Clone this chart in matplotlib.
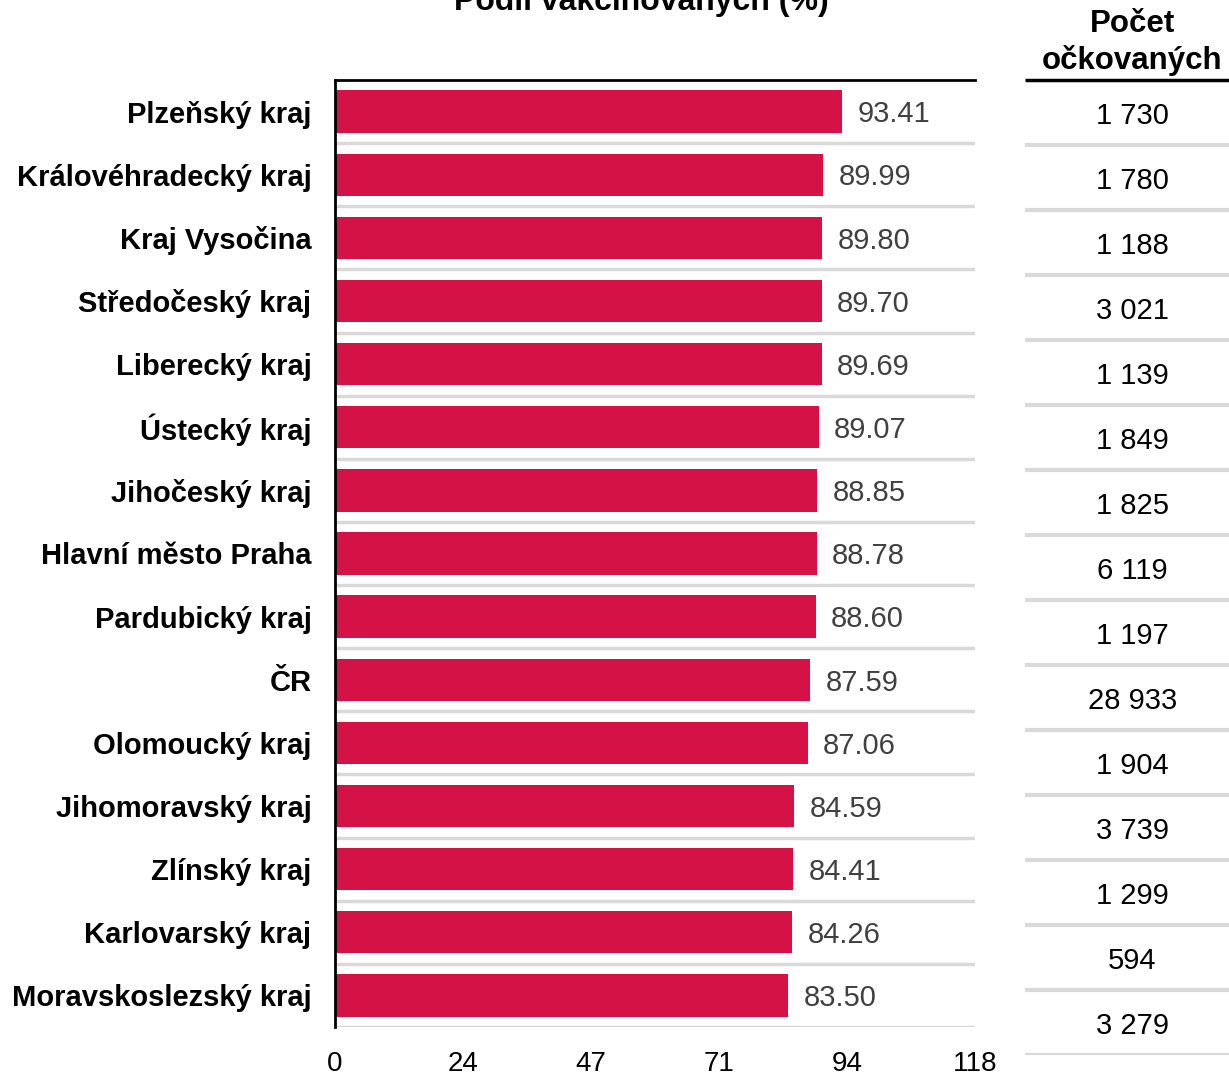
import matplotlib.pyplot as plt

# data
regions = ["Plzeňský kraj", "Královéhradecký kraj", "Kraj Vysočina", "Středočeský kraj",
           "Liberecký kraj", "Ústecký kraj", "Jihočeský kraj", "Hlavní město Praha",
           "Pardubický kraj", "ČR", "Olomoucký kraj", "Jihomoravský kraj",
           "Zlínský kraj", "Karlovarský kraj", "Moravskoslezský kraj"]
share = [93.41, 89.99, 89.80, 89.70, 89.69, 89.07, 88.85, 88.78,
         88.60, 87.59, 87.06, 84.59, 84.41, 84.26, 83.50]
counts = [1730, 1780, 1188, 3021, 1139, 1849, 1825, 6119,
          1197, 28933, 1904, 3739, 1299, 594, 3279]
x_max = 117.9

plt.rcParams['font.family'] = ['Liberation Sans', 'DejaVu Sans']

W, H = 1229, 1076
fig = plt.figure(figsize=(W / 100, H / 100), dpi=100)

def box(x0, y0, x1, y1):
    return [x0 / W, 1 - y1 / H, (x1 - x0) / W, (y1 - y0) / H]

red = "#D41245"
grid = "#D9D9D9"
n = len(regions)

# main bars
ax = fig.add_axes(box(335, 80, 975, 1027))
pos = list(range(n))
ax.barh(pos, share, height=0.67, color=red, zorder=2)
ax.set_ylim(n - 0.5, -0.5)
ax.set_xlim(0, x_max)
ax.hlines([i + 0.5 for i in pos], 0, x_max, color=grid, lw=2.5, zorder=1)
for i, v in enumerate(share):
    ax.annotate(f"{v:.2f}", (v, i), xytext=(11, -2), textcoords="offset points",
                va="center", ha="left", fontsize=21, color="#404040")
ax.set_yticks(pos)
ax.set_yticklabels(regions, fontsize=21, fontweight="bold")
ticks = [x_max * k / 5 for k in range(6)]
ax.set_xticks(ticks)
ax.set_xticklabels([f"{t:.0f}" for t in ticks], fontsize=20)
ax.tick_params(length=0)
ax.tick_params(axis="y", pad=17)
ax.tick_params(axis="x", pad=17)
for s in ["right", "bottom"]:
    ax.spines[s].set_visible(False)
ax.spines["top"].set_linewidth(2)
ax.spines["left"].set_linewidth(2)

# title is cut off at the top, as in the reference
fig.text(641 / W, 1 - 10 / H, "Podíl vakcinovaných (%)", ha="center", va="baseline",
         fontsize=23, fontweight="bold")

# right table
tb = fig.add_axes(box(1025, 80, 1240, 1055))
tb.set_xlim(0, 1)
tb.set_ylim(n, 0)
tb.axis("off")
tb.hlines([i + 1 for i in pos], 0, 1, color=grid, lw=3)
tb.hlines([0], 0, 1, color="black", lw=2.5, clip_on=False)
for i, c in enumerate(counts):
    tb.text(0.5, i + 0.55, f"{c:,}".replace(",", " "), ha="center", va="center", fontsize=21)
fig.text(1132 / W, 1 - 24 / H, "Počet", ha="center", va="center", fontsize=22.5, fontweight="bold")
fig.text(1132 / W, 1 - 61 / H, "očkovaných", ha="center", va="center", fontsize=22.5, fontweight="bold")

fig.savefig("out.png", dpi=100)
